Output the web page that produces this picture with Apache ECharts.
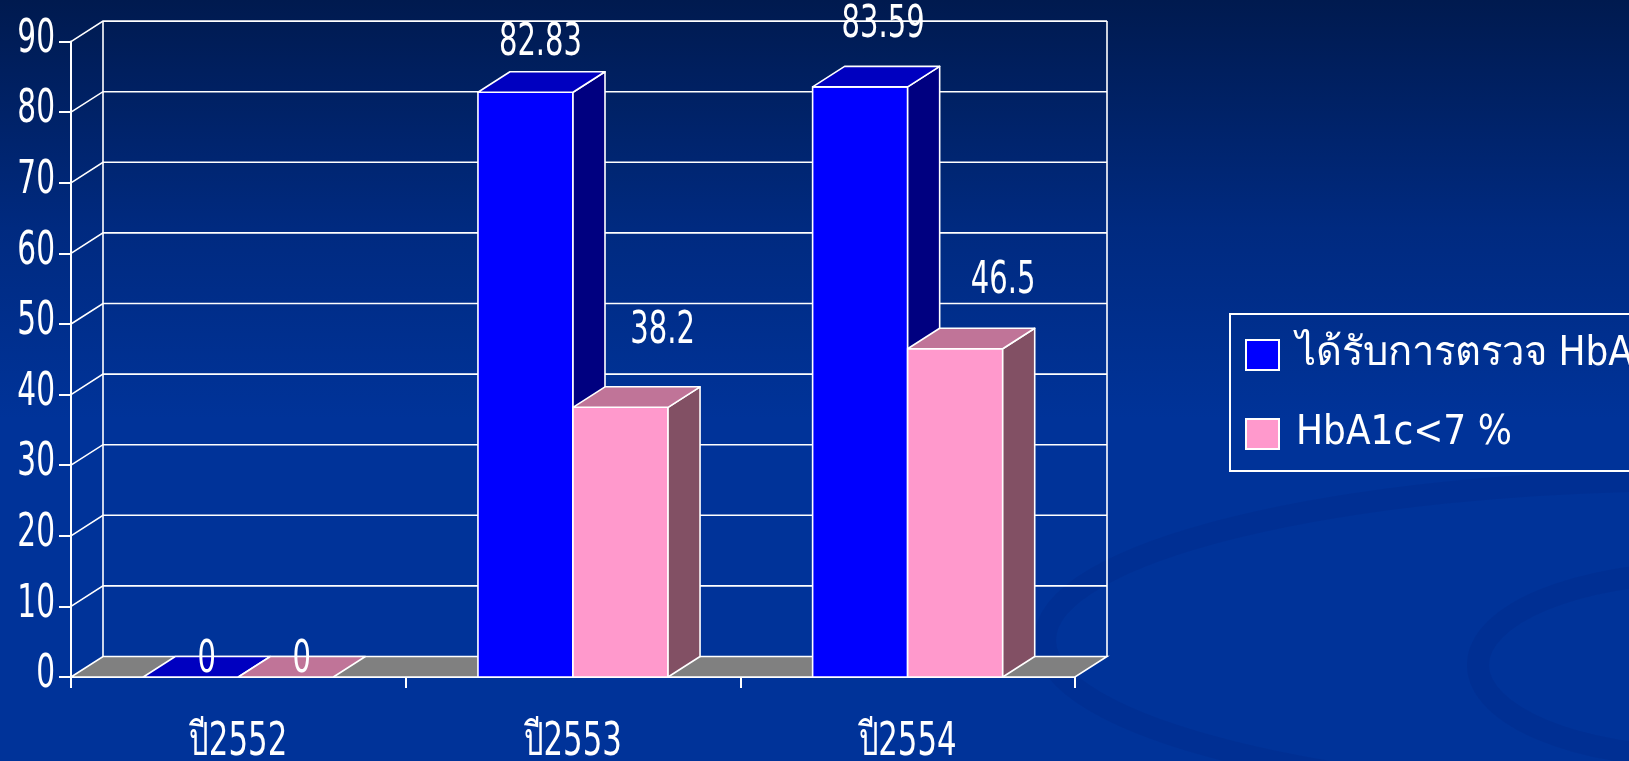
<!DOCTYPE html>
<html><head><meta charset="utf-8">
<script src="https://cdn.jsdelivr.net/npm/echarts@6/dist/echarts.min.js"></script>
<style>html,body{margin:0;padding:0;background:#003399;overflow:hidden}#c{width:1629px;height:761px}</style>
</head><body><div id="c"></div>
<script>
// ---- data ----
const categories = ['ปี2552', 'ปี2553', 'ปี2554'];
const seriesNames = ['ได้รับการตรวจ HbA1c', 'HbA1c<7 %'];
const testedValues = [0, 82.83, 83.59];
const controlledValues = [0, 38.2, 46.5];
const yTicks = [0, 10, 20, 30, 40, 50, 60, 70, 80, 90];

// ---- styling ----
const FONT = "'DejaVu Sans','Noto Sans',sans-serif";
const DX = 32, DY = -20.5, BAR_FRAC = 0.284;
const TEXT_SX = 0.66;
const testedFaces = {front: '#0000FF', top: '#0000C0', side: '#000080'};
const controlledFaces = {front: '#FF99CC', top: '#C07498', side: '#825064'};
const testedLabelNudge = [[0, 32], [-1, 0], [7, -13]];
const controlledLabelNudge = [[0, 32], [26, -27], [32, -19]];

const chart = echarts.init(document.getElementById('c'), null, {renderer: 'canvas'});

function txt(x, y, s, size, align, sx) {
  return {type: 'text', x: x, y: y, scaleX: sx, z2: 10,
    style: {text: s, fill: '#fff', fontSize: size, fontFamily: FONT,
      align: align, verticalAlign: 'middle', textAlign: align, textVerticalAlign: 'middle'}};
}

function makeBar(side, faces, nudges) {
  return function (params, api) {
    const cat = api.value(0), v = api.value(1);
    const pTop = api.coord([cat, v]);
    const pBase = api.coord([cat, 0]);
    const band = api.size([1, 0])[0];
    const w = band * BAR_FRAC;
    const x0 = side === 0 ? pTop[0] - w : pTop[0];
    const x1 = x0 + w;
    const yt = pTop[1], yb = pBase[1];
    const st = {stroke: '#fff', lineWidth: 1.6, lineJoin: 'round'};
    const children = [];
    if (yb - yt > 0.5) {
      children.push({type: 'polygon', shape: {points: [[x0, yb], [x1, yb], [x1, yt], [x0, yt]]},
        style: Object.assign({fill: faces.front}, st)});
      children.push({type: 'polygon', shape: {points: [[x1, yb], [x1 + DX, yb + DY], [x1 + DX, yt + DY], [x1, yt]]},
        style: Object.assign({fill: faces.side}, st)});
    }
    children.push({type: 'polygon', shape: {points: [[x0, yt], [x1, yt], [x1 + DX, yt + DY], [x0 + DX, yt + DY]]},
      style: Object.assign({fill: faces.top}, st)});
    const n = nudges[params.dataIndex];
    children.push(txt((x0 + x1) / 2 + DX / 2 + n[0], yt + DY - 28 + n[1], String(v), 44, 'center', TEXT_SX));
    return {type: 'group', children: children};
  };
}

function renderFrame(params, api) {
  const v = api.value(1);
  const cs = params.coordSys;
  const gx = cs.x, gw = cs.width;
  const y = api.coord([0, v])[1];
  const ln = {stroke: '#fff', lineWidth: 1.6, fill: null};
  const children = [];
  if (v === 0) {
    children.push({type: 'polygon', shape: {points: [[gx, y], [gx + gw, y], [gx + gw + DX, y + DY], [gx + DX, y + DY]]},
      style: {fill: '#808080', stroke: '#fff', lineWidth: 1.6}});
    const yTop = cs.y;
    children.push({type: 'line', shape: {x1: gx + DX, y1: y + DY, x2: gx + DX, y2: yTop + DY}, style: ln});
    children.push({type: 'line', shape: {x1: gx + gw + DX, y1: y + DY, x2: gx + gw + DX, y2: yTop + DY}, style: ln});
  } else {
    children.push({type: 'polyline', shape: {points: [[gx, y], [gx + DX, y + DY], [gx + gw + DX, y + DY]]}, style: ln});
  }
  children.push(txt(gx - 16, y - 2, String(v), 47, 'right', 0.63));
  return {type: 'group', children: children};
}

function renderCatLabel(params, api) {
  const p = api.coord([api.value(0), 0]);
  return txt(p[0], p[1] + 66, categories[params.dataIndex], 46, 'center', 0.67);
}

const option = {
  backgroundColor: new echarts.graphic.LinearGradient(0, 0, 0, 1, [
    {offset: 0, color: '#001a4f'},
    {offset: 0.3, color: '#002a80'},
    {offset: 0.55, color: '#003399'},
    {offset: 1, color: '#003399'}
  ]),
  animation: false,
  graphic: [
    {type: 'ellipse', silent: true, z: -1, shape: {cx: 1700, cy: 640, rx: 655, ry: 160},
      style: {fill: null, stroke: 'rgba(0,28,110,0.14)', lineWidth: 22}},
    {type: 'ellipse', silent: true, z: -1, shape: {cx: 1700, cy: 665, rx: 222, ry: 92},
      style: {fill: null, stroke: 'rgba(0,28,110,0.14)', lineWidth: 22}}
  ],
  grid: {left: 71, right: 554, top: 41.6, bottom: 84, containLabel: false},
  legend: {
    left: 1230, top: 314, orient: 'vertical',
    data: seriesNames,
    icon: 'rect', itemWidth: 33, itemHeight: 30, itemGap: 39,
    padding: [21, 20, 17, 15],
    borderColor: '#fff', borderWidth: 2,
    itemStyle: {borderColor: '#fff', borderWidth: 2},
    textStyle: {color: '#fff', fontSize: 40, fontStyle: 'condensed', fontFamily: FONT, lineHeight: 40, padding: [0, 0, 0, 12]}
  },
  xAxis: {
    type: 'category', data: categories, boundaryGap: true,
    axisLine: {show: true, lineStyle: {color: '#fff', width: 2}},
    axisTick: {show: true, inside: false, length: 11, lineStyle: {color: '#fff', width: 2}},
    axisLabel: {show: false},
    splitLine: {show: false}
  },
  yAxis: {
    type: 'value', min: 0, max: 90, interval: 10,
    axisLine: {show: true, lineStyle: {color: '#fff', width: 2}},
    axisTick: {show: true, inside: false, length: 12, lineStyle: {color: '#fff', width: 2}},
    axisLabel: {show: false},
    splitLine: {show: false}
  },
  series: [
    {type: 'custom', name: 'frame', z: 1, silent: true, renderItem: renderFrame,
      data: yTicks.map(v => [0, v])},
    {type: 'custom', name: 'categoryLabels', z: 1, silent: true, renderItem: renderCatLabel,
      data: categories.map((c, i) => [i, 0])},
    {type: 'custom', name: seriesNames[0], z: 3, renderItem: makeBar(0, testedFaces, testedLabelNudge),
      itemStyle: {color: testedFaces.front},
      data: testedValues.map((v, i) => [i, v])},
    {type: 'custom', name: seriesNames[1], z: 3, renderItem: makeBar(1, controlledFaces, controlledLabelNudge),
      itemStyle: {color: controlledFaces.front},
      data: controlledValues.map((v, i) => [i, v])}
  ]
};
chart.setOption(option);
</script>
</body></html>
